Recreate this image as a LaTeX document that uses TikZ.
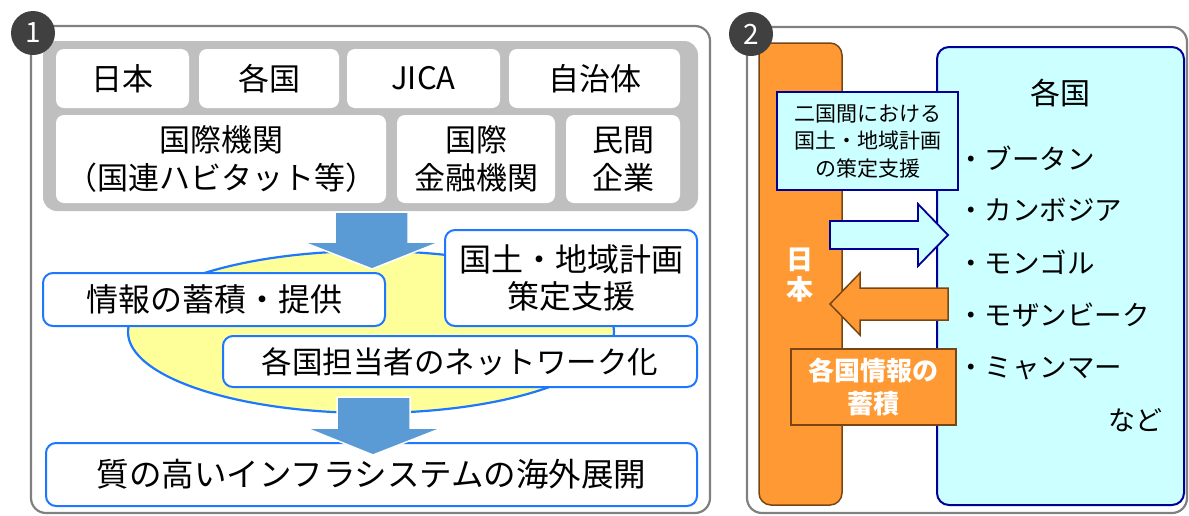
\documentclass[tikz,border=0pt]{standalone}
\usepackage{fontspec}
\setmainfont{Noto Sans CJK JP}
\definecolor{framegray}{RGB}{128,128,128}
\definecolor{panelgray}{RGB}{191,191,191}
\definecolor{numgray}{RGB}{64,64,64}
\definecolor{boxblue}{RGB}{30,120,255}
\definecolor{arrowblue}{RGB}{91,155,213}
\definecolor{paleyellow}{RGB}{255,255,153}
\definecolor{jporange}{RGB}{255,153,51}
\definecolor{jpbrown}{RGB}{120,70,20}
\definecolor{palecyan}{RGB}{204,255,255}
\definecolor{navyline}{RGB}{0,0,153}

\begin{document}
\begin{tikzpicture}[x=1pt,y=-1pt]
    \tikzstyle{frame}=[draw=framegray, line width=2.2pt, rounded corners=15pt]
    \tikzstyle{num}=[circle, fill=numgray, text=white, minimum size=44pt, inner sep=0pt, font=\fontsize{28}{28}\selectfont]
    \tikzstyle{gbox}=[fill=white, rounded corners=8pt, inner sep=0pt, align=center, font=\fontsize{31}{38}\selectfont]
    \tikzstyle{bbox}=[draw=boxblue, line width=2pt, fill=white, rounded corners=10pt, inner sep=0pt, align=center, font=\fontsize{32}{37}\selectfont]
    \tikzstyle{cbox}=[draw=navyline, line width=1.8pt, fill=palecyan, inner sep=0pt, align=center]
    \tikzstyle{obox}=[draw=jpbrown, line width=1.5pt, fill=jporange, inner sep=0pt, align=center, text=white, font=\bfseries\fontsize{26}{33}\selectfont]
    \tikzstyle{item}=[anchor=west, inner sep=0pt, font=\fontsize{27.5}{27.5}\selectfont]
    \useasboundingbox (0,0) rectangle (1189,515);

    % panel 1
    \draw[frame] (31,26) rectangle (710,513);
    \fill[panelgray, rounded corners=14pt] (43,41) rectangle (698,211);
    \node[gbox, minimum width=133, minimum height=59] (nihon) at (122.5,78.5) {日本};
    \node[gbox, minimum width=140, minimum height=59] (kakoku) at (269,78.5) {各国};
    \node[gbox, minimum width=153, minimum height=59] (jica) at (423.5,78.5) {JICA};
    \node[gbox, minimum width=171, minimum height=59] (jichi) at (594.5,78.5) {自治体};
    \node[gbox, minimum width=330, minimum height=88] (kokusai) at (221,159) {国際機関\\（国連ハビタット等）};
    \node[gbox, minimum width=158, minimum height=88] (kinyu) at (476,159) {国際\\金融機関};
    \node[gbox, minimum width=114, minimum height=88] (minkan) at (623,159) {民間\\企業};

    \filldraw[fill=paleyellow, draw=boxblue, line width=2.2pt] (371,332) ellipse [x radius=243, y radius=81];
    \node[bbox, minimum width=342, minimum height=53] (joho) at (214,299.5) {情報の蓄積・提供};
    \node[bbox, minimum width=252, minimum height=96] (shien) at (571,278) {国土・地域計画\\策定支援};
    \node[bbox, minimum width=474, minimum height=51, font=\fontsize{30.5}{30.5}\selectfont] (network) at (460,361.5) {各国担当者のネットワーク化};
    \node[bbox, minimum width=651, minimum height=63, font=\fontsize{32.5}{32.5}\selectfont] (infra) at (371.5,474.5) {質の高いインフラシステムの海外展開};

    % block arrows
    \filldraw[fill=arrowblue, draw=white, line width=1.5pt] (335,212) -- (408,212) -- (408,242) -- (440,242) -- (372,269) -- (303,242) -- (335,242) -- cycle;
    \filldraw[fill=arrowblue, draw=white, line width=1.5pt] (337,397) -- (410,397) -- (410,428) -- (442,428) -- (373,455) -- (306,428) -- (337,428) -- cycle;

    \node[num] (one) at (33,33) {1};

    % panel 2
    \draw[frame] (747,27) rectangle (1187,513);
    \node[draw=navyline, line width=2pt, fill=palecyan, rounded corners=12pt, minimum width=247, minimum height=458] (countries) at (1060.5,276) {};
    \node[draw=jpbrown, line width=1.5pt, fill=jporange, rounded corners=12pt, minimum width=83, minimum height=462] (japan) at (800.5,274) {};
    \node[text=white, align=center, inner sep=0pt, font=\bfseries\fontsize{27}{30}\selectfont] (japantext) at (800,275) {日\\本};

    \filldraw[fill=palecyan, draw=navyline, line width=1.8pt] (830,221) -- (918,221) -- (918,204) -- (948,235) -- (918,266) -- (918,249) -- (830,249) -- cycle;
    \filldraw[fill=jporange, draw=jpbrown, line width=1.5pt] (948,288) -- (860,288) -- (860,273) -- (830,304) -- (860,335) -- (860,320) -- (948,320) -- cycle;

    \node[cbox, minimum width=181, minimum height=98, font=\fontsize{21}{27.5}\selectfont] (nikoku) at (867.5,141) {二国間における\\国土・地域計画\\の策定支援};
    \node[obox, minimum width=165, minimum height=76] (chikuseki) at (873.5,387) {各国情報の\\蓄積};

    \node[inner sep=0pt, font=\fontsize{30}{30}\selectfont] (ctitle) at (1060,93) {各国};
    \node[item] (bhutan) at (957,158) {・ブータン};
    \node[item] (cambodia) at (957,210) {・カンボジア};
    \node[item] (mongol) at (957,262) {・モンゴル};
    \node[item] (mozam) at (957,315) {・モザンビーク};
    \node[item] (myanmar) at (957,368) {・ミャンマー};
    \node[anchor=east, inner sep=0pt, font=\fontsize{27}{27}\selectfont] (nado) at (1163,420) {など};

    \node[num] (two) at (751,34) {2};
\end{tikzpicture}
\end{document}
